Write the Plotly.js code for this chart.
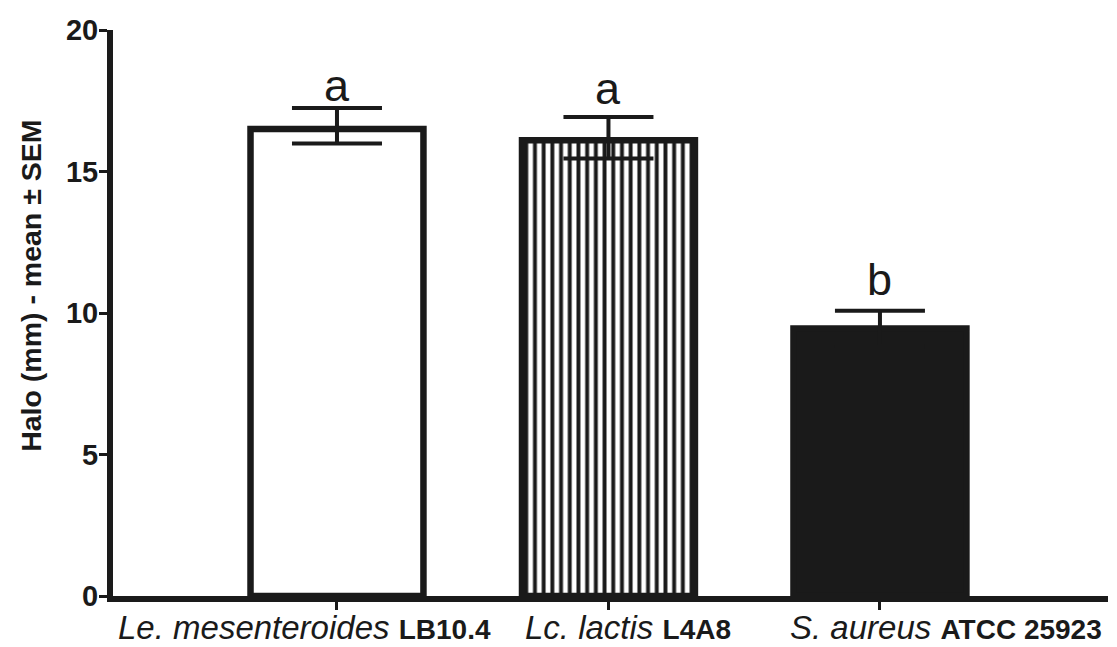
<!DOCTYPE html>
<html>
<head>
<meta charset="utf-8">
<script src="https://cdn.plot.ly/plotly-3.0.1.min.js"></script>
<style>html,body{margin:0;padding:0;background:#fff;}#chart{width:1117px;height:647px;}</style>
</head>
<body>
<div id="chart"></div>
<script>
// ---- data ----
const categories = ["Le. mesenteroides LB10.4", "Lc. lactis L4A8", "S. aureus ATCC 25923"];
const speciesNames = ["Le. mesenteroides", "Lc. lactis", "S. aureus"];
const strainNames = ["LB10.4", "L4A8", "ATCC 25923"];
const means = [16.5, 16.1, 9.45];
const semPlus = [0.74, 0.83, 0.63];
const semMinus = [0.51, 0.64, 0.63];
const letters = ["a", "a", "b"];
const yTicks = [0, 5, 10, 15, 20];

// ---- styles ----
const ink = "#1a1a1a";
const font = "Liberation Sans, Arial, sans-serif";
const fills = ["#ffffff", "#ffffff", ink];
const patterns = ["", "|", ""];
const labelShift = [-32, 20, 66];
const letterShift = [-5, 1, 4];

const traces = categories.map((c, i) => ({
  type: "bar",
  x: [c],
  y: [means[i]],
  width: 0.637,
  marker: {
    color: fills[i],
    line: { color: ink, width: 6.5 },
    pattern: patterns[i] ? { shape: patterns[i], size: 8.7, solidity: 0.45, fgcolor: ink, bgcolor: "#ffffff", fillmode: "replace" } : undefined
  },
  error_y: {
    type: "data",
    symmetric: false,
    array: [semPlus[i]],
    arrayminus: [semMinus[i]],
    color: ink,
    thickness: 4,
    width: 45
  },
  hoverinfo: "skip"
}));

const annotations = [];
categories.forEach((c, i) => {
  annotations.push({
    x: c, y: 0, xref: "x", yref: "paper", yanchor: "top", xanchor: "center",
    yshift: -11, xshift: labelShift[i],
    text: "<i>" + speciesNames[i] + "</i> <span style='font-size:28px'><b>" + strainNames[i] + "</b></span>",
    showarrow: false,
    font: { family: font, size: 33, color: ink }
  });
  annotations.push({
    x: c, y: means[i] + semPlus[i], xref: "x", yref: "y", yanchor: "bottom", xanchor: "center",
    yshift: letterShift[i],
    text: letters[i], showarrow: false,
    font: { family: font, size: 45, color: ink }
  });
});
annotations.push({
  x: -0.0824, y: 0.548, xref: "paper", yref: "paper", xanchor: "center", yanchor: "middle",
  text: "<b>Halo (mm) - mean ± SEM</b>", textangle: -90, showarrow: false,
  font: { family: font, size: 28.5, color: ink }
});

const layout = {
  width: 1117, height: 647,
  margin: { l: 113, r: 9, t: 30, b: 51.3, pad: 0 },
  paper_bgcolor: "#ffffff", plot_bgcolor: "#ffffff",
  showlegend: false,
  barmode: "overlay",
  font: { family: font, color: ink },
  xaxis: {
    type: "category",
    range: [-0.825, 2.84],
    showgrid: false, zeroline: false,
    showline: true, linecolor: ink, linewidth: 6,
    ticks: "outside", ticklen: 8, tickwidth: 3, tickcolor: ink,
    showticklabels: false, fixedrange: true
  },
  yaxis: {
    range: [0, 20],
    tickvals: yTicks,
    ticktext: yTicks.map(v => "<b>" + v + "</b>"),
    showgrid: false, zeroline: false,
    showline: true, linecolor: ink, linewidth: 6,
    ticks: "outside", ticklen: 8, tickwidth: 3, tickcolor: ink,
    tickfont: { family: font, size: 29, color: ink },
    ticklabelstandoff: -5,
    fixedrange: true
  },
  annotations: annotations
};

Plotly.newPlot("chart", traces, layout, { displayModeBar: false, staticPlot: true });
</script>
</body>
</html>
